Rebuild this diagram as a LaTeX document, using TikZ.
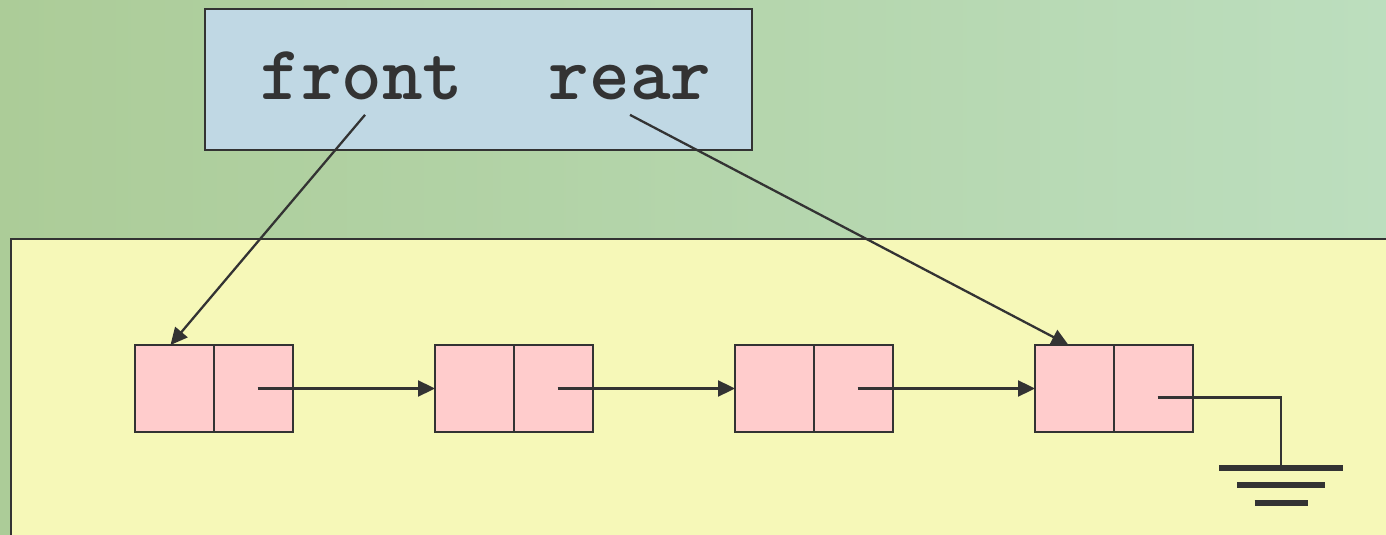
\documentclass[tikz,border=0pt]{standalone}
\usepackage{fontspec}
\usetikzlibrary{arrows.meta,positioning}

\definecolor{bgA}{RGB}{172,204,152}
\definecolor{bgB}{RGB}{188,222,190}
\definecolor{panel}{RGB}{246,248,184}
\definecolor{ptrbox}{RGB}{192,216,228}
\definecolor{cellfill}{RGB}{255,204,204}
\definecolor{ink}{RGB}{51,51,51}

\begin{document}
\begin{tikzpicture}[
    cell/.style={draw=ink, line width=1pt, fill=cellfill, outer sep=0pt,
                 minimum width=1.58cm, minimum height=1.74cm},
    ptr/.style={font=\ttfamily\bfseries\fontsize{44}{44}\selectfont,
                text=ink, inner sep=8pt, anchor=base},
    arr/.style={-{Triangle[length=0.34cm, width=0.32cm]}, draw=ink, line width=1.3pt},
    bar/.style={draw=ink, line width=0.12cm}
]

\useasboundingbox (0,0) rectangle (27.72,10.68);
\shade[left color=bgA, right color=bgB] (0,0) rectangle (27.72,10.68);

% list panel and pointer box
\draw[ink, line width=1pt, fill=panel] (0.22,5.9) rectangle (28,-0.2);
\draw[ink, line width=1pt, fill=ptrbox] (4.1,10.5) rectangle (15.04,7.68);

\node[ptr] (front) at (7.24,8.68) {front};
\node[ptr] (rear) at (12.6,8.68) {rear};

% the four list nodes
\node[cell] (n1a) at (3.49,2.91) {};
\node[cell, right=0pt of n1a] (n1b) {};
\node[cell, right=2.84cm of n1b] (n2a) {};
\node[cell, right=0pt of n2a] (n2b) {};
\node[cell, right=2.84cm of n2b] (n3a) {};
\node[cell, right=0pt of n3a] (n3b) {};
\node[cell, right=2.84cm of n3b] (n4a) {};
\node[cell, right=0pt of n4a] (n4b) {};

\foreach \a/\b in {n1b/n2a,n2b/n3a,n3b/n4a}{
    \draw[arr] ([xshift=0.08cm]\a.center) -- (\b.west);
}

\draw[arr] ([xshift=0.06cm]front.south) -- ([xshift=-0.08cm]n1a.north);
\draw[arr] (rear.south) -- ([xshift=-0.12cm]n4a.north);

% null pointer to ground
\coordinate (gnd) at (25.62,1.32);
\draw[ink, line width=1.6pt] ([xshift=0.08cm,yshift=-0.18cm]n4b.center) -| (gnd);
\draw[bar] ([xshift=-1.24cm]gnd) -- ([xshift=1.24cm]gnd);
\draw[bar] ([xshift=-0.88cm,yshift=-0.34cm]gnd) -- ([xshift=0.88cm,yshift=-0.34cm]gnd);
\draw[bar] ([xshift=-0.53cm,yshift=-0.7cm]gnd) -- ([xshift=0.53cm,yshift=-0.7cm]gnd);

\end{tikzpicture}
\end{document}
